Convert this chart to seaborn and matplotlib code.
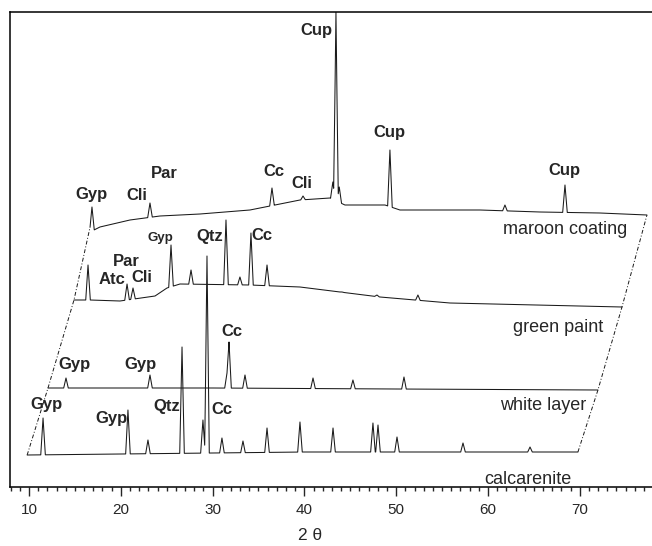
import numpy as np
import pandas as pd
import seaborn as sns
from matplotlib import pyplot as plt
from matplotlib.ticker import MultipleLocator

sns.set_style('white')
plt.rcParams['font.family'] = ['Liberation Sans', 'DejaVu Sans']

# x = 2 theta as drawn on the axis (traces are offset for the 3D look), y = intensity (a.u.)
calc_base_x = [9.8, 20.0, 40.0, 69.8]
calc_base_y = [32, 33, 35, 35]
calc_peak_x = [11.53, 20.78, 22.96, 26.67, 28.95, 29.39, 31.02, 33.31, 35.93, 39.52,
               43.12, 47.47, 48.02, 50.09, 57.28, 64.58]
calc_peak_y = [69, 77, 47, 140, 67, 231, 49, 46, 59, 65, 59, 64, 62, 50, 44, 40]

white_base_x = [12.07, 30.0, 50.0, 71.98]
white_base_y = [99, 99, 98, 97]
white_peak_x = [14.03, 23.18, 31.57, 31.79, 33.53, 40.94, 45.29, 50.85]
white_peak_y = [109, 112, 114, 145, 112, 109, 107, 110]

green_base_x = [14.90, 16.65, 19.91, 23.73, 25.03, 26.45, 34.07, 39.52, 48.24, 55.86, 74.60]
green_base_y = [187, 187, 186, 191, 199, 203, 202, 200, 190, 184, 180]
green_peak_x = [16.43, 20.68, 21.33, 25.47, 27.65, 31.46, 32.98, 34.18, 35.93,
                40.94, 44.10, 47.91, 52.37]
green_peak_y = [222, 203, 199, 242, 217, 267, 210, 254, 222, 197, 195, 192, 192]

maroon_base_x = [16.65, 17.73, 21.00, 24.27, 28.63, 34.07, 36.80, 39.52, 42.79, 44.42,
                 48.78, 50.41, 59.13, 65.67, 72.19, 77.32]
maroon_base_y = [255, 260, 267, 271, 273, 277, 282, 287, 289, 282, 282, 277, 277, 275, 274, 272]
maroon_peak_x = [16.86, 23.18, 36.47, 39.85, 43.10, 43.44, 43.80, 49.32, 61.85, 68.39]
maroon_peak_y = [280, 284, 299, 291, 305, 475, 300, 337, 282, 302]

# phase labels
calc_lab = ['Gyp', 'Gyp', 'Qtz', 'Cc']
calc_lab_x = [11.96, 19.04, 25.03, 31.02]
calc_lab_y = [82, 69, 80, 78]
white_lab = ['Gyp', 'Gyp', 'Cc']
white_lab_x = [15.01, 22.20, 32.11]
white_lab_y = [122, 122, 156]
green_lab = ['Atc', 'Par', 'Cli', 'Gyp', 'Qtz', 'Cc']
green_lab_x = [19.04, 20.57, 22.31, 24.27, 29.72, 35.38]
green_lab_y = [207, 226, 209, 249, 251, 251]
maroon_lab = ['Gyp', 'Cli', 'Par', 'Cc', 'Cli', 'Cup', 'Cup', 'Cup']
maroon_lab_x = [16.86, 21.76, 24.71, 36.69, 39.74, 41.26, 49.32, 68.28]
maroon_lab_y = [292, 292, 313, 315, 304, 456, 354, 316]

names = ['calcarenite', 'white layer', 'green paint', 'maroon coating']
name_x = [64.36, 65.99, 67.63, 68.39]
name_y = [8, 82, 160, 257]


def build(bx, by, px, py, hw=0.25):
    xs = set(bx)
    for p in px:
        xs.update([p - hw, p, p + hw])
    xs = np.array(sorted(x for x in xs if bx[0] <= x <= bx[-1]))
    ys = np.interp(xs, bx, by)
    for p, top in zip(px, py):
        b = np.interp(p, bx, by)
        m = np.abs(xs - p) < hw
        tri = b + (top - b) * (1 - np.abs(xs[m] - p) / hw)
        ys[m] = np.maximum(ys[m], tri)
    return pd.DataFrame({'two_theta': xs, 'intensity': ys})


traces = [
    build(calc_base_x, calc_base_y, calc_peak_x, calc_peak_y),
    build(white_base_x, white_base_y, white_peak_x, white_peak_y),
    build(green_base_x, green_base_y, green_peak_x, green_peak_y),
    build(maroon_base_x, maroon_base_y, maroon_peak_x, maroon_peak_y),
]

fig = plt.figure(figsize=(6.52, 5.46), dpi=100)
ax = fig.add_axes([10 / 652, 59 / 546, 642 / 652, 475 / 546])

for df in traces:
    sns.lineplot(data=df, x='two_theta', y='intensity', ax=ax, color='#1a1a1a',
                 lw=0.75, estimator=None, sort=False)

# dash-dot frame joining the trace ends
starts = pd.DataFrame({'x': [t['two_theta'].iloc[0] for t in traces],
                       'y': [t['intensity'].iloc[0] for t in traces]})
ends = pd.DataFrame({'x': [t['two_theta'].iloc[-1] for t in traces],
                     'y': [t['intensity'].iloc[-1] for t in traces]})
for d in (starts, ends):
    ax.plot(d['x'], d['y'], color='#1a1a1a', lw=0.7, linestyle=(0, (4, 2, 1, 2)))

for labs, lx, ly in [(calc_lab, calc_lab_x, calc_lab_y), (white_lab, white_lab_x, white_lab_y),
                     (green_lab, green_lab_x, green_lab_y), (maroon_lab, maroon_lab_x, maroon_lab_y)]:
    for s, x, y in zip(labs, lx, ly):
        fs = 9.5 if (labs is green_lab and s == 'Gyp') else 12
        ax.text(x, y, s, ha='center', va='center', fontsize=fs, fontweight='bold')

for s, x, y in zip(names, name_x, name_y):
    ax.text(x, y, s, ha='center', va='center', fontsize=13)

ax.set_xlim(7.93, 77.87)
ax.set_ylim(0, 475)
ax.set_yticks([])
ax.set_xlabel('')
ax.set_ylabel('')
ax.xaxis.set_major_locator(MultipleLocator(10))
ax.xaxis.set_minor_locator(MultipleLocator(1))
ax.tick_params(axis='x', which='major', direction='out', length=6.5, width=1, pad=5,
               labelsize=11, bottom=True)
ax.tick_params(axis='x', which='minor', direction='out', length=3, width=1, bottom=True)
for side in ['left', 'top', 'bottom']:
    ax.spines[side].set_color('black')
    ax.spines[side].set_linewidth(1.1)
ax.spines['right'].set_visible(False)

fig.text(310 / 652, 1 - 536 / 546, '2 θ', ha='center', va='center', fontsize=12.5)

fig.savefig('out.png', dpi=100)
